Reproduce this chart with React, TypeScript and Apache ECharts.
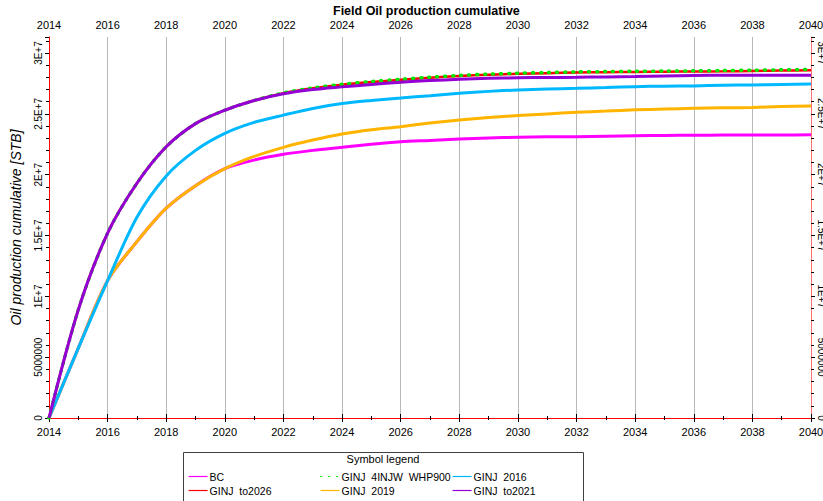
import React, { useEffect, useRef } from "react";
import * as echarts from "echarts";

const years = [2014, 2015, 2016, 2017, 2018, 2019, 2020, 2021, 2022, 2023, 2024, 2025, 2026, 2027, 2028, 2029, 2030, 2031, 2032, 2033, 2034, 2035, 2036, 2037, 2038, 2039, 2040];

// values in millions of STB
const bc = [0, 5.75, 11.3, 14.5, 17.25, 19.1, 20.5, 21.2, 21.68, 22.0, 22.25, 22.5, 22.7, 22.82, 22.94, 23.02, 23.08, 23.11, 23.13, 23.17, 23.21, 23.23, 23.24, 23.26, 23.27, 23.27, 23.28];
const ginjTo2026 = [0, 8.9, 15.2, 19.3, 22.3, 24.2, 25.3, 26.1, 26.7, 27.1, 27.4, 27.62, 27.8, 27.98, 28.12, 28.22, 28.29, 28.35, 28.4, 28.43, 28.45, 28.47, 28.48, 28.5, 28.53, 28.56, 28.58];
const ginj4injw = [0, 8.9, 15.2, 19.3, 22.3, 24.2, 25.3, 26.1, 26.72, 27.13, 27.43, 27.66, 27.84, 28.02, 28.16, 28.27, 28.34, 28.4, 28.45, 28.48, 28.5, 28.52, 28.54, 28.56, 28.59, 28.62, 28.65];
const ginj2019 = [0, 5.75, 11.3, 14.5, 17.25, 19.1, 20.5, 21.5, 22.25, 22.85, 23.35, 23.7, 23.95, 24.25, 24.5, 24.7, 24.86, 25.0, 25.13, 25.23, 25.33, 25.4, 25.46, 25.5, 25.53, 25.6, 25.65];
const ginj2016 = [0, 5.75, 11.3, 16.5, 19.9, 22.0, 23.4, 24.3, 24.9, 25.45, 25.85, 26.1, 26.3, 26.5, 26.7, 26.85, 26.97, 27.05, 27.1, 27.17, 27.24, 27.28, 27.3, 27.35, 27.38, 27.42, 27.46];
const ginjTo2021 = [0, 8.9, 15.2, 19.3, 22.3, 24.2, 25.3, 26.1, 26.65, 27.0, 27.22, 27.42, 27.6, 27.74, 27.84, 27.92, 27.97, 27.99, 28.01, 28.04, 28.07, 28.12, 28.16, 28.17, 28.18, 28.18, 28.18];

const seriesNames = ["BC", "GINJ  to2026", "GINJ  4INJW  WHP900", "GINJ  2019", "GINJ  2016", "GINJ  to2021"];
const yTickLabels: Record<string, string> = {
  "0": "0",
  "5000000": "5000000",
  "10000000": "1E+7",
  "15000000": "1.5E+7",
  "20000000": "2E+7",
  "25000000": "2.5E+7",
  "30000000": "3E+7",
};

const FONT = "'Liberation Sans', Arial, sans-serif";

const toPairs = (vals: number[]) => years.map((y, i) => [y, vals[i] * 1e6]);

export default function App() {
  const ref = useRef<HTMLDivElement>(null);
  useEffect(() => {
    const chart = echarts.init(ref.current!, null, { renderer: "svg" });
    const yFmt = (v: number) => yTickLabels[String(Math.round(v))] ?? "";
    const xFmt = (v: number) => String(v);
    const lineSeries = (name: string, vals: number[], color: string, width: number, extra: any = {}) => ({
      type: "line",
      name,
      data: toPairs(vals),
      symbol: "none",
      smooth: 0.3,
      xAxisIndex: 0,
      yAxisIndex: 0,
      lineStyle: { color, width, ...extra },
      itemStyle: { color },
    });
    const legendBase = {
      orient: "vertical",
      top: 471,
      itemGap: 3,
      itemWidth: 19,
      itemHeight: 12,
      padding: 0,
      itemStyle: { opacity: 0 },
      lineStyle: { width: 1.2 },
      textStyle: { fontFamily: FONT, fontSize: 10.5, color: "#000", padding: [0, 0, 0, -3] },
      selectedMode: false,
    };
    chart.setOption({
      animation: false,
      backgroundColor: "#fff",
      title: {
        text: "Field Oil production cumulative",
        left: 333,
        top: 4,
        padding: 0,
        textStyle: { fontFamily: FONT, fontSize: 12.5, fontWeight: "bold", color: "#000" },
      },
      grid: { left: 49, right: 12, top: 37, bottom: 83, outerBoundsMode: "none" },
      xAxis: [
        {
          type: "value",
          position: "bottom",
          min: 2014,
          max: 2040,
          interval: 2,
          axisLine: { show: true, lineStyle: { color: "#ff8a8a", width: 1 } },
          axisTick: { show: true, length: 4, lineStyle: { color: "#000" } },
          minorTick: { show: true, splitNumber: 2, length: 2, lineStyle: { color: "#000" } },
          splitLine: { show: true, lineStyle: { color: "#b8b8b8", width: 1 } },
          axisLabel: { formatter: xFmt, fontFamily: FONT, fontSize: 11, color: "#000", margin: 8 },
        },
        {
          type: "value",
          position: "top",
          min: 2014,
          max: 2040,
          interval: 2,
          axisLine: { show: true, lineStyle: { color: "#ff0000", width: 1 } },
          axisTick: { show: true, length: 4, lineStyle: { color: "#000" } },
          minorTick: { show: true, splitNumber: 2, length: 2, lineStyle: { color: "#000" } },
          splitLine: { show: false },
          axisLabel: { formatter: xFmt, fontFamily: FONT, fontSize: 11, color: "#000", margin: 7 },
        },
      ],
      yAxis: [
        {
          type: "value",
          position: "left",
          min: 0,
          max: 31320000,
          interval: 5000000,
          name: "Oil production cumulative [STB]",
          nameLocation: "middle",
          nameGap: 26,
          nameTextStyle: { fontFamily: FONT, fontSize: 14, fontStyle: "italic", color: "#000" },
          axisLine: { show: true, lineStyle: { color: "#ff0000", width: 1 } },
          axisTick: { show: true, length: 4, lineStyle: { color: "#000" } },
          minorTick: { show: true, splitNumber: 5, length: 3, lineStyle: { color: "#000" } },
          splitLine: { show: false },
          axisLabel: { formatter: yFmt, rotate: 90, fontFamily: FONT, fontSize: 10, color: "#000", margin: 6, showMaxLabel: false },
        },
        {
          type: "value",
          position: "right",
          min: 0,
          max: 31320000,
          interval: 5000000,
          axisLine: { show: true, lineStyle: { color: "#ff6f6f", width: 1 } },
          axisTick: { show: true, length: 4, lineStyle: { color: "#000" } },
          minorTick: { show: true, splitNumber: 5, length: 3, lineStyle: { color: "#000" } },
          splitLine: { show: false },
          axisLabel: { formatter: yFmt, rotate: -90, fontFamily: FONT, fontSize: 10, color: "#000", margin: 5, showMaxLabel: false },
        },
      ],
      legend: [
        { ...legendBase, left: 188, data: [seriesNames[0], seriesNames[1]] },
        { ...legendBase, left: 320, data: [seriesNames[2], seriesNames[3]] },
        { ...legendBase, left: 452, data: [seriesNames[4], seriesNames[5]] },
      ],
      graphic: [
        {
          type: "rect",
          shape: { x: 183.5, y: 452.5, width: 400, height: 60 },
          style: { fill: "none", stroke: "#404040", lineWidth: 1 },
          silent: true,
          z: -1,
        },
        {
          type: "text",
          x: 383,
          y: 459,
          style: { text: "Symbol legend", fontFamily: FONT, fontSize: 11, fill: "#000", align: "center", verticalAlign: "middle" },
          silent: true,
        },
      ],
      series: [
        lineSeries(seriesNames[0], bc, "#ff00ff", 3),
        lineSeries(seriesNames[3], ginj2019, "#ffb400", 3),
        lineSeries(seriesNames[4], ginj2016, "#00b8ff", 3),
        lineSeries(seriesNames[1], ginjTo2026, "#ff0000", 2.5),
        lineSeries(seriesNames[2], ginj4injw, "#00e600", 3.5, { type: [1, 7], cap: "round" }),
        lineSeries(seriesNames[5], ginjTo2021, "#9400d3", 3),
      ],
    });
    return () => chart.dispose();
  }, []);
  return <div ref={ref} style={{ position: "fixed", left: 0, top: 0, width: 823, height: 501 }} />;
}
